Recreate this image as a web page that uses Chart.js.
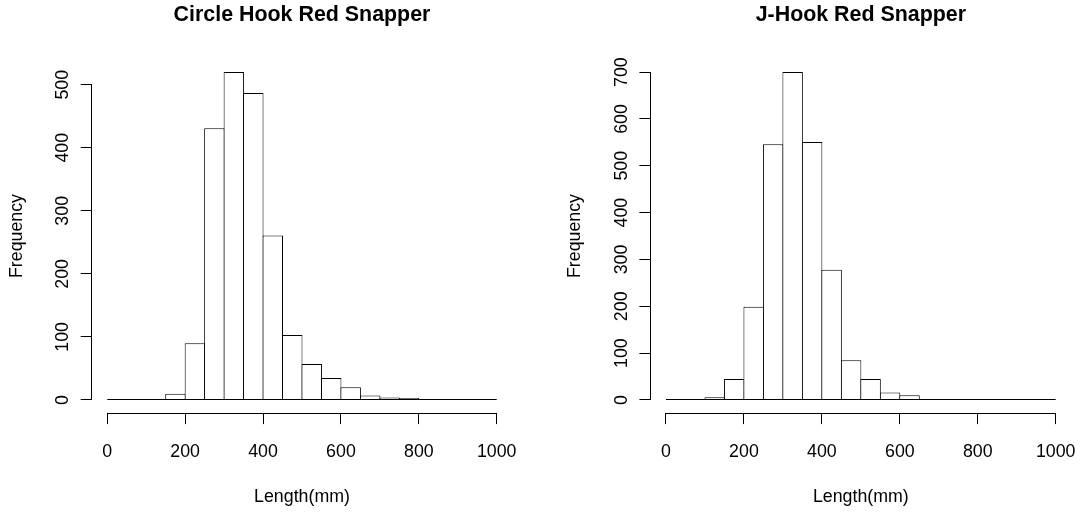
<!DOCTYPE html>
<html>
<head>
<meta charset="utf-8">
<script src="https://cdn.jsdelivr.net/npm/chart.js"></script>
<style>
    body { margin: 0; background: #fff; }
    .panel { position: absolute; top: 0; width: 540px; height: 512px; }
</style>
</head>
<body>
<div class="panel" style="left:0px"><canvas id="CIRCLE" width="540" height="512"></canvas></div>
<div class="panel" style="left:540px"><canvas id="JHOOK" width="540" height="512"></canvas></div>
<script>
//DATA (bins of 50 mm)
const breaks = [0, 50, 100, 150, 200, 250, 300, 350, 400, 450, 500, 550, 600, 650, 700, 750, 800, 850, 900, 950, 1000];
const circleCounts = [0, 0, 0, 10, 90, 431, 520, 487, 261, 103, 57, 35, 20, 7, 4, 3, 1, 0, 1, 0];
const jhookCounts = [0, 0, 6, 45, 199, 546, 700, 551, 278, 85, 45, 16, 10, 2, 0, 0, 0, 0, 0, 0];

//TICKS
const xTicks = [0, 200, 400, 600, 800, 1000];
const circleTicks = [0, 100, 200, 300, 400, 500];
const jhookTicks = [0, 100, 200, 300, 400, 500, 600, 700];

const FONT = "'Liberation Sans', Arial, Helvetica, sans-serif";
const TICK_FONT = { family: FONT, size: 17.8 };

const toBins = (counts) => counts.map((c, i) => ({ x: (breaks[i] + breaks[i + 1]) / 2, y: c }));

const crisp = (v) => Math.round(v - 0.5) + 0.5;

//AXIS LINES LIKE R (only between first and last tick) + zero baseline
const rAxes = {
    id: 'rAxes',
    afterDatasetsDraw(chart, args, opts) {
        const { ctx, chartArea, scales: { x, y } } = chart;
        const yt = opts.yTicks;
        ctx.save();
        ctx.strokeStyle = '#000';
        ctx.lineWidth = 1;
        ctx.beginPath();
        //y axis
        ctx.moveTo(crisp(chartArea.left), y.getPixelForValue(yt[0]));
        ctx.lineTo(crisp(chartArea.left), y.getPixelForValue(yt[yt.length - 1]));
        //x axis
        ctx.moveTo(x.getPixelForValue(xTicks[0]), crisp(chartArea.bottom));
        ctx.lineTo(x.getPixelForValue(xTicks[xTicks.length - 1]), crisp(chartArea.bottom));
        //bar baseline
        ctx.moveTo(x.getPixelForValue(breaks[0]), crisp(y.getPixelForValue(0)));
        ctx.lineTo(x.getPixelForValue(breaks[breaks.length - 1]), crisp(y.getPixelForValue(0)));
        ctx.stroke();
        ctx.restore();
    }
};

function createHist(id, title, counts, yTicks, yAxisWidth, rightPad, yTitlePad) {
    const top = Math.max(...counts);
    const xr = breaks[breaks.length - 1] - breaks[0];
    return new Chart(document.getElementById(id).getContext('2d'), {
        type: 'bar',
        plugins: [rAxes],
        data: {
            datasets: [{
                data: toBins(counts),
                backgroundColor: '#ffffff',
                borderColor: '#000000',
                borderWidth: { top: 1, left: 1, right: 1, bottom: 0 },
                borderSkipped: 'start',
                inflateAmount: 0,
                barPercentage: 1.05,
                categoryPercentage: 1,
            }],
        },
        options: {
            responsive: false,
            animation: false,
            layout: { padding: { left: 0, right: rightPad, top: 0, bottom: 0 } },
            plugins: {
                legend: { display: false },
                tooltip: { enabled: false },
                title: {
                    display: true,
                    fullSize: false,
                    text: title,
                    color: '#000',
                    font: { family: FONT, size: 21.4, weight: 'bold' },
                    padding: { top: 2.7, bottom: 30.6 },
                },
                rAxes: { yTicks: yTicks },
            },
            scales: {
                x: {
                    type: 'linear',
                    bounds: 'data',
                    offset: false,
                    min: breaks[0] - 0.04 * xr,
                    max: breaks[breaks.length - 1] + 0.04 * xr,
                    afterBuildTicks: (s) => { s.ticks = xTicks.map(v => ({ value: v })); },
                    afterFit: (s) => { s.height = 98.9; s.paddingLeft = 0; s.paddingRight = 0; },
                    border: { display: false },
                    grid: { offset: false, drawOnChartArea: false, drawTicks: true, tickLength: 11, color: '#000' },
                    ticks: { color: '#000', font: TICK_FONT, padding: 16.9, maxRotation: 0, callback: (v) => String(v) },
                    title: { display: true, text: 'Length(mm)', color: '#000', font: TICK_FONT, padding: { top: 0, bottom: 4.6 } },
                },
                y: {
                    type: 'linear',
                    bounds: 'data',
                    min: -0.04 * top,
                    max: top * 1.04,
                    afterBuildTicks: (s) => { s.ticks = yTicks.map(v => ({ value: v })); },
                    afterFit: (s) => { s.width = yAxisWidth; },
                    border: { display: false },
                    grid: { drawOnChartArea: false, drawTicks: true, tickLength: 11, color: '#000' },
                    ticks: { color: '#000', font: TICK_FONT, padding: 2.75, minRotation: 90, maxRotation: 90, crossAlign: 'center', callback: (v) => String(v) },
                    title: { display: true, text: 'Frequency', color: '#000', font: TICK_FONT, padding: { top: yTitlePad, bottom: 0 } },
                },
            },
        }
    });
}

createHist('CIRCLE', 'Circle Hook Red Snapper', circleCounts, circleTicks, 91.7, 27.7, 6.0);
createHist('JHOOK', 'J-Hook Red Snapper', jhookCounts, jhookTicks, 110.4, 8.7, 24.7);
</script>
</body>
</html>
